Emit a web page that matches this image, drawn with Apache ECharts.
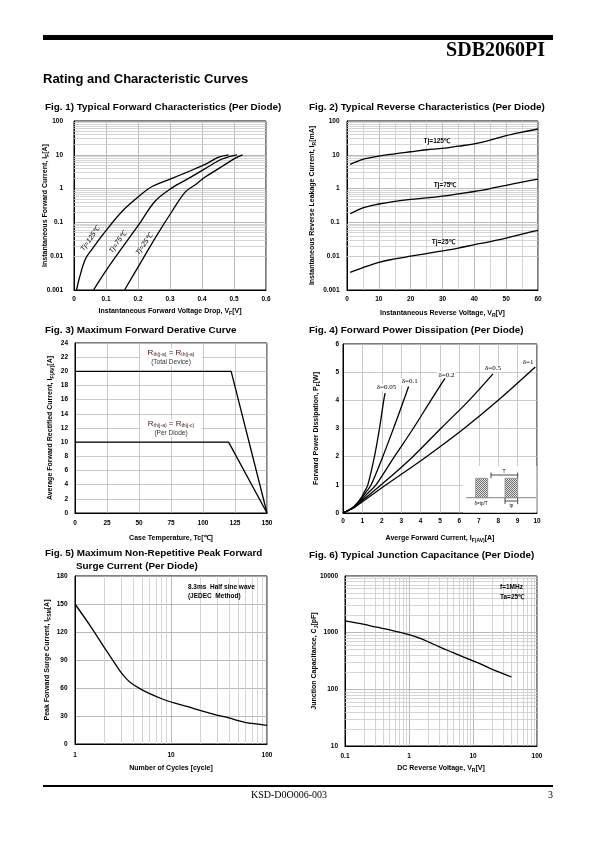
<!DOCTYPE html>
<html><head><meta charset="utf-8">
<script src="https://cdn.jsdelivr.net/npm/echarts@6/dist/echarts.min.js"></script>
<style>html,body{margin:0;padding:0;background:#fff}#c{width:595px;height:842px}</style>
</head><body><div id="c"></div>
<script>
// ---------------- DATA ----------------
// Fig.1 forward characteristics [VF (V), IF (A)]
const fig1Tj125 = [[0.008,0.001],[0.017,0.0023],[0.035,0.008],[0.056,0.016],[0.098,0.054],[0.15,0.21],[0.202,0.58],[0.244,1.15],[0.306,2.0],[0.358,3.2],[0.41,5.2],[0.452,8.5],[0.483,10]];
const fig1Tj75  = [[0.061,0.001],[0.098,0.0035],[0.15,0.0176],[0.202,0.085],[0.254,0.43],[0.306,1.05],[0.358,2.0],[0.41,3.9],[0.463,7.5],[0.509,10]];
const fig1Tj25  = [[0.158,0.001],[0.202,0.0051],[0.254,0.035],[0.306,0.21],[0.348,0.8],[0.379,1.3],[0.41,2.2],[0.4625,4.5],[0.504,8],[0.527,10]];
const fig1Labels = ['Tj=125℃','Tj=75℃','Tj=25℃'];
// Fig.2 reverse characteristics
const fig2VR = [1,5,10,15,20,25,30,35,40,45,50,55,60];
const fig2Tj125 = [5.2,7.3,9.1,10.7,12.3,14.1,15.5,18,21,27,37,47,58];
const fig2Tj75  = [0.18,0.27,0.35,0.42,0.48,0.53,0.6,0.7,0.82,1.0,1.25,1.55,1.9];
const fig2Tj25  = [0.0033,0.0046,0.0066,0.0083,0.01,0.012,0.0144,0.0174,0.022,0.027,0.034,0.045,0.058];
const fig2Labels = ['Tj=125℃','Tj=75℃','Tj=25℃'];
// Fig.3 derating
const fig3Total = [[0,20],[122,20],[150,0]];
const fig3PerDiode = [[0,10],[120,10],[150,0]];
// Fig.4 power dissipation [IF(AV), PF]
const fig4D005 = [[0,0],[0.3,0.1],[0.6,0.25],[0.9,0.5],[1.1,0.75],[1.28,1],[1.62,2],[1.88,3],[2.1,4],[2.17,4.26]];
const fig4D01  = [[0,0],[0.3,0.1],[0.6,0.25],[0.9,0.48],[1.2,0.75],[1.45,1],[2.05,2],[2.6,3],[3.13,4],[3.38,4.49]];
const fig4D02  = [[0,0],[0.3,0.1],[0.6,0.24],[1.0,0.5],[1.3,0.72],[1.7,1],[2.65,2],[3.62,3],[4.53,4],[5.26,4.79]];
const fig4D05  = [[0,0],[0.3,0.1],[0.6,0.22],[1.0,0.45],[1.97,1],[3.6,2],[5.04,3],[6.5,4],[7.73,4.94]];
const fig4D1   = [[0,0],[0.3,0.1],[0.6,0.2],[1.0,0.4],[2.22,1],[4.3,2],[6.24,3],[8.0,4],[9.91,5.18]];
const fig4Labels = ['δ=0.05','δ=0.1','δ=0.2','δ=0.5','δ=1'];
// Fig.5 surge current
const fig5Cycles = [1,1.5,2,2.5,3,3.5,4,5,6,8,10,15,20,30,40,50,60,70,100];
const fig5IFSM   = [150,124,104,89,77,69,64,58,54,48.5,45,40,36,31,28,25,23,22,20];
// Fig.6 junction capacitance
const fig6VR = [0.1,0.2,0.3,0.5,0.7,1,1.5,2,3,5,7,10,15,20,30,40];
const fig6CJ = [1620,1400,1260,1120,1020,920,790,690,560,440,375,318,262,225,188,165];

// ---------------- STYLE ----------------
const SANS = "'Liberation Sans', Arial, Helvetica, sans-serif";
const SERIF = "'Liberation Serif', 'Times New Roman', serif";
const MAJOR = '#a8a8a8', MINOR = '#cacaca';
const RICH = {
  b:{fontSize:7, fontWeight:'bold', fontFamily:SANS, color:'#000', lineHeight:9},
  s:{fontSize:5, fontWeight:'bold', fontFamily:SANS, color:'#000', verticalAlign:'bottom'}
};
const logFmt = v => String(+(+v).toPrecision(4));

function axis(g, o){
  const a = {
    gridIndex:g, type:o.type||'value', min:o.min, max:o.max,
    name:o.name, nameLocation:'middle', nameGap:o.gap, nameMoveOverlap:false,
    nameTextStyle:{fontSize:7, fontWeight:'bold', fontFamily:SANS, color:'#000', rich:RICH},
    axisLine:{show:true, onZero:false, lineStyle:{color:'#000', width:1}},
    axisTick:{show:false},
    axisLabel:{margin:o.margin, fontSize:6.5, fontWeight:'bold', fontFamily:SANS, color:'#000', hideOverlap:false},
    splitLine:{show:true, lineStyle:{color:o.gridColor||MAJOR, width:0.8}}
  };
  if (o.interval !== undefined) a.interval = o.interval;
  if (o.type === 'log') { a.logBase = 10; a.axisLabel.formatter = logFmt; }
  if (o.minor) { a.minorTick = {show:false, splitNumber:o.minor}; a.minorSplitLine = {show:true, lineStyle:{color:MINOR, width:0.8}}; }
  return a;
}
function curve(g, data, smooth){
  return {type:'line', xAxisIndex:g, yAxisIndex:g, data, symbol:'none', showSymbol:false,
    smooth: smooth===undefined ? 0.35 : smooth, lineStyle:{color:'#000', width:1.3}, z:5, silent:true, animation:false};
}
function decades(lo, hi){
  const out=[];
  for (let e=Math.round(Math.log10(lo)); e<Math.round(Math.log10(hi)); e++){
    const b=Math.pow(10,e);
    for (let k=2;k<=9;k++) out.push(+(k*b).toPrecision(3));
  }
  return out;
}
function minorLines(g, xs, ys){
  return {type:'line', xAxisIndex:g, yAxisIndex:g, data:[], z:1, silent:true, animation:false,
    markLine:{silent:true, symbol:['none','none'], animation:false, label:{show:false},
      lineStyle:{color:MINOR, width:0.8, type:'solid'}, emphasis:{disabled:true},
      data:[...xs.map(v=>({xAxis:v})), ...ys.map(v=>({yAxis:v}))]}};
}
const zip = (a,b) => a.map((v,i)=>[v,b[i]]);

const grids = [
  {left:74, top:121, width:192, height:169},
  {left:347, top:121, width:191, height:169},
  {left:75, top:343, width:192, height:170},
  {left:343, top:344, width:194, height:169},
  {left:75, top:576, width:192, height:168},
  {left:345, top:576, width:192, height:170}
].map(g=>Object.assign({show:true, borderColor:'#000', borderWidth:1, containLabel:false}, g));

const option = {
  animation:false,
  backgroundColor:'#fff',
  grid: grids,
  xAxis: [
    axis(0,{min:0,max:0.6,interval:0.1,margin:6,gap:17,name:'{b|Instantaneous Forward Voltage Drop, V}{s|F}{b|[V]}'}),
    axis(1,{min:0,max:60,interval:10,minor:2,margin:6,gap:19,name:'{b|Instantaneous Reverse Voltage, V}{s|R}{b|[V]}'}),
    axis(2,{min:0,max:150,interval:25,margin:7,gap:21,gridColor:'#bdbdbd',name:'{b|Case Temperature, Tc[℃]}'}),
    axis(3,{min:0,max:10,interval:1,margin:4.5,gap:21,gridColor:'#bdbdbd',name:'{b|Averge Forward Current, I}{s|F(AV)}{b|[A]}'}),
    axis(4,{type:'log',min:1,max:100,margin:8,gap:20,name:'{b|Number of Cycles [cycle]}'}),
    axis(5,{type:'log',min:0.1,max:100,margin:7,gap:18,name:'{b|DC Reverse Voltage, V}{s|R}{b|[V]}'})
  ],
  yAxis: [
    axis(0,{type:'log',min:0.001,max:100,margin:11,gap:24,name:'{b|Instantaneous Forward Current, I}{s|F}{b|[A]}'}),
    axis(1,{type:'log',min:0.001,max:100,margin:7.5,gap:30,name:'{b|Instantaneous Reverse Leakage Current, I}{s|R}{b|[mA]}'}),
    axis(2,{min:0,max:24,interval:2,margin:7,gap:20,gridColor:'#bdbdbd',name:'{b|Average Forward Rectified Current, I}{s|F(AV)}{b|[A]}'}),
    axis(3,{min:0,max:6,interval:1,margin:4,gap:22,gridColor:'#bdbdbd',name:'{b|Forward Power Dissipation, P}{s|F}{b|[W]}'}),
    axis(4,{min:0,max:180,interval:30,margin:7.5,gap:23,name:'{b|Peak Forward Surge Current, I}{s|FSM}{b|[A]}'}),
    axis(5,{type:'log',min:10,max:10000,margin:7,gap:26,name:'{b|Junction Capacitance, C}{s|J}{b|[pF]}'})
  ],
  series: [
    minorLines(0, [], decades(0.001,100)),
    minorLines(1, [], decades(0.001,100)),
    minorLines(4, decades(1,100), []),
    minorLines(5, decades(0.1,100), decades(10,10000)),
    curve(0, fig1Tj125), curve(0, fig1Tj75), curve(0, fig1Tj25),
    curve(1, zip(fig2VR,fig2Tj125)), curve(1, zip(fig2VR,fig2Tj75)), curve(1, zip(fig2VR,fig2Tj25)),
    curve(2, fig3Total, false), curve(2, fig3PerDiode, false),
    curve(3, fig4D005), curve(3, fig4D01), curve(3, fig4D02), curve(3, fig4D05), curve(3, fig4D1),
    curve(4, zip(fig5Cycles,fig5IFSM)),
    curve(5, zip(fig6VR,fig6CJ))
  ]
};

const chart = echarts.init(document.getElementById('c'), null, {renderer:'canvas', width:595, height:842});
chart.setOption(option);

// ---------------- ANNOTATIONS ----------------
function txt(x, y, text, font, extra){
  extra = extra || {};
  const st = Object.assign({text, fill:'#000', font, align:'left', verticalAlign:'middle', textAlign:'left', textVerticalAlign:'middle'}, extra.style || {});
  const el = {type:'text', x, y, z:20, silent:true, style:st};
  if (extra.rotation !== undefined) el.rotation = extra.rotation;
  return el;
}
const CENTER = {align:'center', textAlign:'center'};
const RIGHT = {align:'right', textAlign:'right'};
function box(x, y, w, h, z){ return {type:'rect', z:z||2, silent:true, shape:{x, y, width:w, height:h}, style:{fill:'#fff'}}; }
function line(x1,y1,x2,y2,color,w){ return {type:'line', z:21, silent:true, shape:{x1,y1,x2,y2}, style:{stroke:color||'#000', lineWidth:w||0.7}}; }
const P = (g, pt) => chart.convertToPixel({gridIndex:g}, pt);

const B = s => 'bold ' + s + 'px ' + SANS;
const G = [];
// header & footer
G.push({type:'rect', z:20, silent:true, shape:{x:43, y:35, width:510, height:5}, style:{fill:'#000'}});
G.push(txt(545, 51, 'SDB2060PI', 'bold 20px ' + SERIF, {style:RIGHT}));
G.push(txt(43, 79.5, 'Rating and Characteristic Curves', B(13)));
G.push({type:'rect', z:20, silent:true, shape:{x:43, y:785, width:510, height:2}, style:{fill:'#000'}});
G.push(txt(289, 795, 'KSD-D0O006-003', '10px ' + SERIF, {style:CENTER}));
G.push(txt(553, 795, '3', '10px ' + SERIF, {style:RIGHT}));
// titles
G.push(txt(45, 107.5, 'Fig. 1) Typical Forward Characteristics (Per Diode)', B(9.9)));
G.push(txt(309, 107.5, 'Fig. 2) Typical Reverse Characteristics (Per Diode)', B(9.9)));
G.push(txt(45, 330.5, 'Fig. 3) Maximum Forward Derative Curve', B(9.9)));
G.push(txt(309, 330.5, 'Fig. 4) Forward Power Dissipation (Per Diode)', B(9.9)));
G.push(txt(45, 553.5, 'Fig. 5) Maximum Non-Repetitive Peak Forward', B(9.9)));
G.push(txt(76, 566, 'Surge Current (Per Diode)', B(9.9)));
G.push(txt(309, 555, 'Fig. 6) Typical Junction Capacitance (Per Diode)', B(9.9)));

// Fig.1 rotated labels
const fig1Anchor = [[0.051,0.033],[0.137,0.026],[0.22,0.023]];
fig1Anchor.forEach((a,i)=>{ const p=P(0,a); G.push(txt(p[0], p[1], fig1Labels[i], 'italic 7px ' + SANS, {rotation:0.96, style:CENTER})); });
// Fig.2 labels
const fig2Anchor = [[28.2,25],[30.8,1.3],[30.2,0.026]];
fig2Anchor.forEach((a,i)=>{ const p=P(1,a); G.push(txt(p[0], p[1], fig2Labels[i], B(6.5), {style:Object.assign({backgroundColor:'#fff', padding:[0,1]}, CENTER)})); });
// Fig.3 boxes
const fig3Anchor = [[75,22],[75,12]];
const fig3Sub = [['th(j-a)','th(j-a)','(Total Device)'],['th(j-a)','th(j-c)','(Per Diode)']];
const R3 = {r:{fontSize:8, fontFamily:SANS, color:'#4a1515'}, s:{fontSize:5, fontFamily:SANS, color:'#4a1515', verticalAlign:'bottom'}};
fig3Anchor.forEach((a,i)=>{
  const p=P(2,a);
  G.push(box(p[0]-31, p[1]-9, 62, 18));
  G.push({type:'text', x:p[0], y:p[1]-4, z:20, silent:true, style:{text:'{r|R}{s|'+fig3Sub[i][0]+'}{r| = R}{s|'+fig3Sub[i][1]+'}', rich:R3, align:'center', verticalAlign:'middle', textAlign:'center', textVerticalAlign:'middle', fill:'#4a1515'}});
  G.push(txt(p[0], p[1]+5, fig3Sub[i][2], '6.5px ' + SANS, {style:Object.assign({fill:'#333'}, CENTER)}));
});
// Fig.4 labels
const fig4Anchor = [[2.24,4.46],[3.44,4.67],[5.33,4.91],[7.73,5.15],[9.54,5.35]];
fig4Anchor.forEach((a,i)=>{ const p=P(3,a); G.push(txt(p[0], p[1], fig4Labels[i], '7px ' + SERIF, {style:Object.assign({backgroundColor:'#fff', padding:[0,1]}, CENTER)})); });
// Fig.4 inset
const pc = document.createElement('canvas'); pc.width=2; pc.height=2;
const pctx = pc.getContext('2d'); pctx.fillStyle='#e4e4e4'; pctx.fillRect(0,0,2,2); pctx.fillStyle='#6e6e6e'; pctx.fillRect(0,0,1,1); pctx.fillRect(1,1,1,1);
G.push(box(463, 466, 73.5, 46.5));
G.push(line(466, 497.7, 536, 497.7, '#9a9a9a', 1.2));
G.push({type:'rect', z:21, silent:true, shape:{x:475.7, y:478.3, width:12, height:19.4}, style:{fill:{image:pc, repeat:'repeat'}, stroke:'#8a8a8a', lineWidth:0.8}});
G.push({type:'rect', z:21, silent:true, shape:{x:505, y:478.3, width:12.7, height:19.4}, style:{fill:{image:pc, repeat:'repeat'}, stroke:'#8a8a8a', lineWidth:0.8}});
G.push(line(491, 475, 517.7, 475)); G.push(line(491, 472.5, 491, 478.3)); G.push(line(517.7, 472.5, 517.7, 478.3));
G.push(txt(504, 471.5, 'T', '5px ' + SANS, {style:CENTER}));
G.push(txt(481, 503.5, 'δ=tp/T', '4.5px ' + SANS, {style:CENTER}));
G.push(line(505, 501, 517.7, 501));
G.push(line(505, 498, 505, 504)); G.push(line(517.7, 498, 517.7, 504));
G.push(txt(511.3, 505.8, 'tp', '4.5px ' + SANS, {style:CENTER}));
// Fig.5 note
const fig5Anchor = [15, 167.5];
{ const p=P(4,fig5Anchor); G.push(box(p[0]-3, p[1]-6, 76, 20)); G.push(txt(p[0], p[1], '8.3ms  Half sine wave', B(6.5))); G.push(txt(p[0], p[1]+9, '(JEDEC  Method)', B(6.5))); }
// Fig.6 note
const fig6Anchor = [26.4, 6300];
{ const p=P(5,fig6Anchor); G.push(box(p[0]-3, p[1]-6, 38, 20)); G.push(txt(p[0], p[1], 'f=1MHz', B(6.5))); G.push(txt(p[0], p[1]+9.4, 'Ta=25℃', B(6.5))); }

chart.setOption({graphic: G});
</script></body></html>
